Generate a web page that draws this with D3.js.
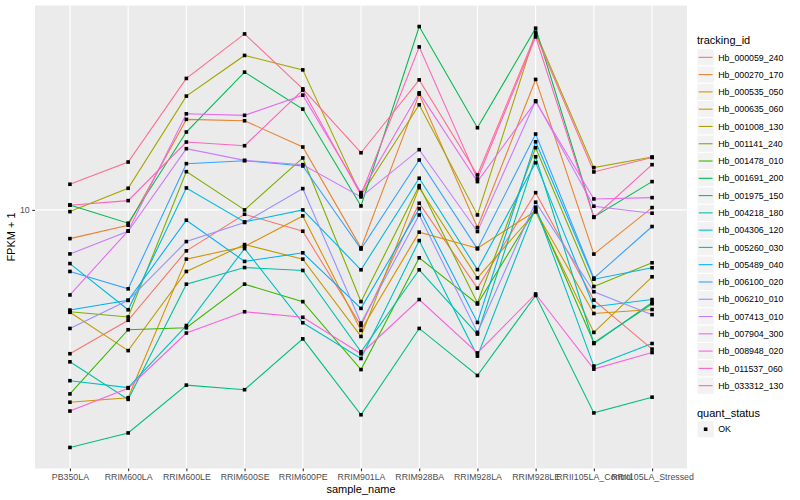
<!DOCTYPE html>
<html>
<head>
<meta charset="utf-8">
<script src="https://cdn.jsdelivr.net/npm/d3@7"></script>
<style>
  body { margin: 0; background: #fff; }
  text { font-family: "Liberation Sans", Arial, Helvetica, sans-serif; }
</style>
</head>
<body>
<svg id="chart" width="800" height="500"></svg>
<script>
var samples = ["PB350LA", "RRIM600LA", "RRIM600LE", "RRIM600SE", "RRIM600PE",
  "RRIM901LA", "RRIM928BA", "RRIM928LA", "RRIM928LE",
  "RRII105LA_Control", "RRII105LA_Stressed"];

var trackingIds = ["Hb_000059_240", "Hb_000270_170", "Hb_000535_050", "Hb_000635_060",
  "Hb_001008_130", "Hb_001141_240", "Hb_001478_010", "Hb_001691_200", "Hb_001975_150",
  "Hb_004218_180", "Hb_004306_120", "Hb_005260_030", "Hb_005489_040", "Hb_006100_020",
  "Hb_006210_010", "Hb_007413_010", "Hb_007904_300", "Hb_008948_020", "Hb_011537_060",
  "Hb_033312_130"];

// FPKM + 1, one value per sample
var hb_000059_240 = [3.31, 4.28, 7.30, 9.67, 8.49, 4.11, 10.53, 5.48, 11.42, 5.00, 3.43];
var hb_000270_170 = [8.02, 8.89, 20.06, 19.85, 16.22, 7.47, 24.36, 8.73, 27.27, 7.12, 10.18];
var hb_000535_050 = [2.28, 2.36, 6.85, 7.55, 9.55, 3.96, 8.43, 7.45, 9.92, 4.51, 4.65];
var hb_000635_060 = [4.55, 3.39, 6.23, 7.66, 6.85, 3.78, 11.87, 5.93, 9.85, 3.90, 5.98];
var hb_001008_130 = [9.87, 11.81, 23.99, 32.79, 29.35, 11.18, 22.44, 9.62, 39.20, 13.84, 15.02];
var hb_001141_240 = [4.57, 4.39, 13.42, 10.00, 14.91, 4.94, 12.05, 4.89, 16.13, 5.55, 6.66];
var hb_001478_010 = [2.43, 3.98, 4.04, 5.65, 4.94, 2.93, 6.92, 4.85, 10.08, 3.60, 4.86];
var hb_001691_200 = [10.39, 9.03, 18.20, 28.84, 21.71, 10.31, 40.95, 18.81, 40.43, 9.48, 12.43];
var hb_001975_150 = [1.61, 1.80, 2.60, 2.51, 3.71, 2.07, 4.02, 2.80, 5.18, 2.10, 2.37];
var hb_004218_180 = [3.11, 2.33, 5.65, 6.42, 6.28, 3.36, 6.31, 3.85, 15.05, 3.58, 4.91];
var hb_004306_120 = [2.69, 2.55, 4.11, 7.43, 4.20, 3.19, 7.90, 3.25, 10.21, 3.01, 3.58];
var hb_005260_030 = [6.62, 4.64, 11.84, 9.12, 10.00, 6.31, 12.76, 6.32, 14.38, 4.75, 5.02];
var hb_005489_040 = [4.63, 4.99, 9.24, 6.73, 7.19, 4.69, 10.10, 4.21, 16.89, 5.87, 6.41];
var hb_006100_020 = [6.23, 5.45, 14.27, 14.60, 14.02, 7.40, 14.68, 7.41, 17.92, 5.92, 8.80];
var hb_006210_010 = [4.02, 4.99, 7.84, 9.08, 11.78, 4.19, 9.62, 3.90, 10.61, 5.33, 4.47];
var hb_007413_010 = [7.13, 8.49, 16.01, 14.64, 14.16, 11.05, 15.89, 8.47, 23.14, 10.29, 9.75];
var hb_007904_300 = [5.20, 8.51, 20.94, 20.69, 24.17, 11.42, 24.60, 12.43, 23.00, 10.88, 10.99];
var hb_008948_020 = [2.13, 2.54, 3.88, 4.57, 4.38, 3.31, 5.02, 3.33, 5.24, 2.94, 3.34];
var hb_011537_060 = [10.37, 10.74, 16.85, 16.38, 25.12, 11.22, 35.02, 12.69, 37.82, 9.44, 14.16];
var hb_033312_130 = [12.18, 14.45, 27.48, 38.69, 25.37, 15.52, 27.18, 13.08, 38.51, 13.39, 14.96];

var colors = ["#F8766D", "#EA8331", "#D89000", "#C09B00", "#A3A500", "#7CAE00", "#39B600",
  "#00BB4E", "#00BF7D", "#00C1A3", "#00BFC4", "#00BAE0", "#00B0F6", "#35A2FF", "#9590FF",
  "#C77CFF", "#E76BF3", "#FA62DB", "#FF62BC", "#FF6C91"];

var yTicks = [10];

var seriesValues = [hb_000059_240, hb_000270_170, hb_000535_050, hb_000635_060, hb_001008_130,
  hb_001141_240, hb_001478_010, hb_001691_200, hb_001975_150, hb_004218_180, hb_004306_120,
  hb_005260_030, hb_005489_040, hb_006100_020, hb_006210_010, hb_007413_010, hb_007904_300,
  hb_008948_020, hb_011537_060, hb_033312_130];

var series = trackingIds.map(function (id, i) {
  return {
    id: id,
    color: colors[i],
    points: seriesValues[i].map(function (v, j) { return { sample: samples[j], value: v }; })
  };
});

var svg = d3.select("#chart");
var panel = { left: 35, right: 687, top: 5.5, bottom: 468.5 };

var x = d3.scalePoint().domain(samples).range([panel.left, panel.right]).padding(0.6);

// log scale with ggplot-style 5% expansion
var allValues = d3.merge(seriesValues);
var lo = Math.log10(d3.min(allValues)), hi = Math.log10(d3.max(allValues));
var pad = (hi - lo) * 0.05;
var y = d3.scaleLog()
  .domain([Math.pow(10, lo - pad), Math.pow(10, hi + pad)])
  .range([panel.bottom, panel.top]);

// panel background
svg.append("rect")
  .attr("x", panel.left).attr("y", panel.top)
  .attr("width", panel.right - panel.left).attr("height", panel.bottom - panel.top)
  .attr("fill", "#EBEBEB");

// grid
svg.append("g").selectAll("line").data(samples).enter().append("line")
  .attr("x1", function (d) { return x(d); }).attr("x2", function (d) { return x(d); })
  .attr("y1", panel.top).attr("y2", panel.bottom)
  .attr("stroke", "#fff").attr("stroke-width", 1.1);
svg.append("g").selectAll("line").data(yTicks).enter().append("line")
  .attr("x1", panel.left).attr("x2", panel.right)
  .attr("y1", function (d) { return y(d); }).attr("y2", function (d) { return y(d); })
  .attr("stroke", "#fff").attr("stroke-width", 1.1);

// axes
var xAxis = svg.append("g")
  .attr("transform", "translate(0," + panel.bottom + ")")
  .call(d3.axisBottom(x).tickSize(2.75).tickPadding(2.5));
var yAxis = svg.append("g")
  .attr("transform", "translate(" + panel.left + ",0)")
  .call(d3.axisLeft(y).tickValues(yTicks).tickFormat(d3.format("d")).tickSize(2.75).tickPadding(2.5));
[xAxis, yAxis].forEach(function (a) {
  a.select(".domain").remove();
  a.selectAll(".tick line").attr("stroke", "#333333").attr("stroke-width", 1.1);
  a.selectAll(".tick text").attr("fill", "#4D4D4D").style("font-size", "8.8px")
    .style("font-family", "'Liberation Sans', Arial, sans-serif");
});

svg.append("text")
  .attr("x", (panel.left + panel.right) / 2).attr("y", 493)
  .attr("text-anchor", "middle").style("font-size", "11px").attr("fill", "#000")
  .text("sample_name");
svg.append("text")
  .attr("transform", "translate(15," + (panel.top + panel.bottom) / 2 + ") rotate(-90)")
  .attr("text-anchor", "middle").style("font-size", "11px").attr("fill", "#000")
  .text("FPKM + 1");

// lines
var line = d3.line()
  .x(function (d) { return x(d.sample); })
  .y(function (d) { return y(d.value); });

svg.append("g").selectAll("path").data(series).enter().append("path")
  .attr("d", function (d) { return line(d.points); })
  .attr("fill", "none")
  .attr("stroke", function (d) { return d.color; })
  .attr("stroke-width", 1.1);

// points
svg.append("g").selectAll("g").data(series).enter().append("g")
  .selectAll("rect").data(function (d) { return d.points; }).enter().append("rect")
  .attr("x", function (d) { return x(d.sample) - 1.8; })
  .attr("y", function (d) { return y(d.value) - 1.8; })
  .attr("width", 3.6).attr("height", 3.6)
  .attr("fill", "#000");

// legend: tracking_id
var legend = svg.append("g").attr("transform", "translate(697,0)");
var keySize = 17.28;
legend.append("text").attr("x", 0).attr("y", 44)
  .style("font-size", "11px").attr("fill", "#000").text("tracking_id");
var items = legend.selectAll("g.item").data(series).enter().append("g")
  .attr("class", "item")
  .attr("transform", function (d, i) { return "translate(0," + (48.7 + i * keySize) + ")"; });
items.append("rect").attr("width", keySize).attr("height", keySize)
  .attr("fill", "#F2F2F2").attr("stroke", "#fff").attr("stroke-width", 1);
items.append("line")
  .attr("x1", 1.7).attr("x2", keySize - 1.7)
  .attr("y1", keySize / 2).attr("y2", keySize / 2)
  .attr("stroke", function (d) { return d.color; }).attr("stroke-width", 1.1);
items.append("text").attr("x", keySize + 4).attr("y", keySize / 2 + 3.2)
  .style("font-size", "8.8px").attr("fill", "#000")
  .text(function (d) { return d.id; });

// legend: quant_status
var legend2 = svg.append("g").attr("transform", "translate(697,0)");
legend2.append("text").attr("x", 0).attr("y", 416.5)
  .style("font-size", "11px").attr("fill", "#000").text("quant_status");
legend2.append("rect").attr("y", 420.6).attr("width", keySize).attr("height", keySize)
  .attr("fill", "#F2F2F2").attr("stroke", "#fff");
legend2.append("rect").attr("x", keySize / 2 - 1.8).attr("y", 420.6 + keySize / 2 - 1.8)
  .attr("width", 3.6).attr("height", 3.6).attr("fill", "#000");
legend2.append("text").attr("x", keySize + 4).attr("y", 420.6 + keySize / 2 + 3.2)
  .style("font-size", "8.8px").attr("fill", "#000").text("OK");
</script>
</body>
</html>
